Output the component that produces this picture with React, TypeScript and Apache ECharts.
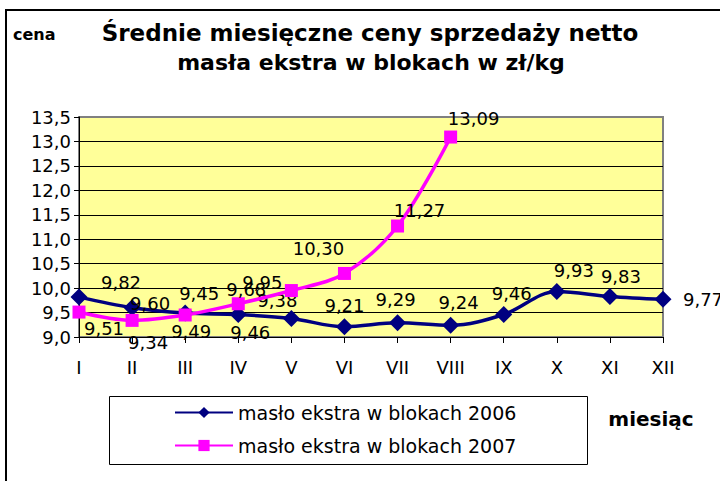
import React, { useEffect, useRef } from 'react';
import * as echarts from 'echarts';

const months = ['I', 'II', 'III', 'IV', 'V', 'VI', 'VII', 'VIII', 'IX', 'X', 'XI', 'XII'];
const values2006 = [9.82, 9.6, 9.49, 9.46, 9.38, 9.21, 9.29, 9.24, 9.46, 9.93, 9.83, 9.77];
const values2007 = [9.51, 9.34, 9.45, 9.68, 9.95, 10.3, 11.27, 13.09];
const seriesNames = ['masło ekstra w blokach 2006', 'masło ekstra w blokach 2007'];
const titleLines = ['Średnie miesięczne ceny sprzedaży netto', 'masła ekstra w blokach w zł/kg'];
const yAxisName = 'cena';
const xAxisName = 'miesiąc';
const yMin = 9;
const yMax = 13.5;
const yStep = 0.5;

// label placement offsets (pixels from each marker), kept apart from the data
const labelOffsets2006 = [[42, -14], [18, -4], [6, 18], [12, 18], [-14, -18], [0, -21], [-2, -23], [8, -23], [8, -21], [17, -21], [11, -20], [40, 0]];
const labelOffsets2007 = [[25, 16], [16, 22], [14, -22], [8, -14], [-29, -8], [-26, -25], [22, -16], [23, -19]];

const FONT = 'DejaVu Sans';
const fmt1 = (v: number) => v.toFixed(1).replace('.', ',');
const fmt2 = (v: number) => v.toFixed(2).replace('.', ',');

export default function App() {
  const ref = useRef<HTMLDivElement>(null);
  useEffect(() => {
    if (!ref.current) return;
    const chart = echarts.init(ref.current, undefined, { renderer: 'svg' });
    const mkData = (vals: number[], offs: number[][]) =>
      vals.map((v, i) => ({
        value: v,
        label: { offset: offs[i] },
      }));
    const labelStyle = {
      show: true,
      position: 'inside',
      align: 'center',
      verticalAlign: 'middle',
      color: '#000',
      textBorderWidth: 0,
      fontFamily: FONT,
      fontSize: 18,
      formatter: (p: any) => fmt2(p.value),
    };
    const nSplit = Math.round((yMax - yMin) / yStep);
    const splitColors = Array.from({ length: nSplit + 1 }, (_, i) => (i === nSplit ? '#808080' : '#000'));
    chart.setOption({
      animation: false,
      backgroundColor: '#fff',
      textStyle: { fontFamily: FONT },
      grid: {
        left: 79,
        right: 57,
        top: 117,
        bottom: 144,
        show: true,
        backgroundColor: '#FFFF99',
        borderColor: '#808080',
        borderWidth: 2,
      },
      xAxis: {
        type: 'category',
        data: months,
        boundaryGap: false,
        axisLine: { show: true, lineStyle: { color: '#000', width: 1 } },
        axisTick: { show: true, length: 6, interval: 0, lineStyle: { color: '#000' } },
        axisLabel: { interval: 0, color: '#000', fontFamily: FONT, fontSize: 18, margin: 21 },
        splitLine: { show: false },
      },
      yAxis: {
        type: 'value',
        min: yMin,
        max: yMax,
        interval: yStep,
        axisLine: { show: true, lineStyle: { color: '#000', width: 1 } },
        axisTick: { show: true, length: 5, lineStyle: { color: '#000' } },
        axisLabel: { color: '#000', fontFamily: FONT, fontSize: 18, margin: 8, formatter: (v: number) => fmt1(v) },
        splitLine: { show: true, lineStyle: { color: splitColors, width: 1 } },
      },
      legend: {
        orient: 'vertical',
        left: 174,
        top: 403,
        itemWidth: 58,
        itemHeight: 14,
        itemGap: 14,
        padding: 0,
        textStyle: { color: '#000', fontFamily: FONT, fontSize: 19, lineHeight: 19 },
        data: seriesNames,
      },
      graphic: [
        {
          type: 'rect',
          shape: { x: 6, y: 10, width: 800, height: 600 },
          style: { fill: 'none', stroke: '#000', lineWidth: 2 },
          silent: true,
          z: -10,
        },
        {
          type: 'rect',
          shape: { x: 109.5, y: 396.5, width: 478, height: 68 },
          style: { fill: 'none', stroke: '#000', lineWidth: 1 },
          silent: true,
        },
        {
          type: 'text',
          x: 370,
          y: 33,
          style: { text: titleLines[0], fontFamily: FONT, fontWeight: 'bold', fontSize: 23, fill: '#000', align: 'center', verticalAlign: 'middle' },
        },
        {
          type: 'text',
          x: 371,
          y: 62,
          style: { text: titleLines[1], fontFamily: FONT, fontWeight: 'bold', fontSize: 22, fill: '#000', align: 'center', verticalAlign: 'middle' },
        },
        {
          type: 'text',
          x: 13,
          y: 34,
          style: { text: yAxisName, fontFamily: FONT, fontWeight: 'bold', fontSize: 16, fill: '#000', align: 'left', verticalAlign: 'middle' },
        },
        {
          type: 'text',
          x: 651,
          y: 419,
          style: { text: xAxisName, fontFamily: FONT, fontWeight: 'bold', fontSize: 20, fill: '#000', align: 'center', verticalAlign: 'middle' },
        },
      ],
      series: [
        {
          name: seriesNames[0],
          type: 'line',
          data: mkData(values2006, labelOffsets2006),
          smooth: 0.35,
          symbol: 'diamond',
          symbolSize: 17,
          lineStyle: { color: '#000080', width: 3.5 },
          itemStyle: { color: '#000080' },
          label: labelStyle,
          z: 2,
        },
        {
          name: seriesNames[1],
          type: 'line',
          data: mkData(values2007, labelOffsets2007),
          smooth: 0.35,
          symbol: 'rect',
          symbolSize: 13,
          lineStyle: { color: '#FF00FF', width: 3.5 },
          itemStyle: { color: '#FF00FF' },
          label: labelStyle,
          z: 3,
        },
      ],
    });
    return () => chart.dispose();
  }, []);
  return (
    <div
      ref={ref}
      style={{ position: 'fixed', left: 0, top: 0, width: 720, height: 481, background: '#fff' }}
    />
  );
}
